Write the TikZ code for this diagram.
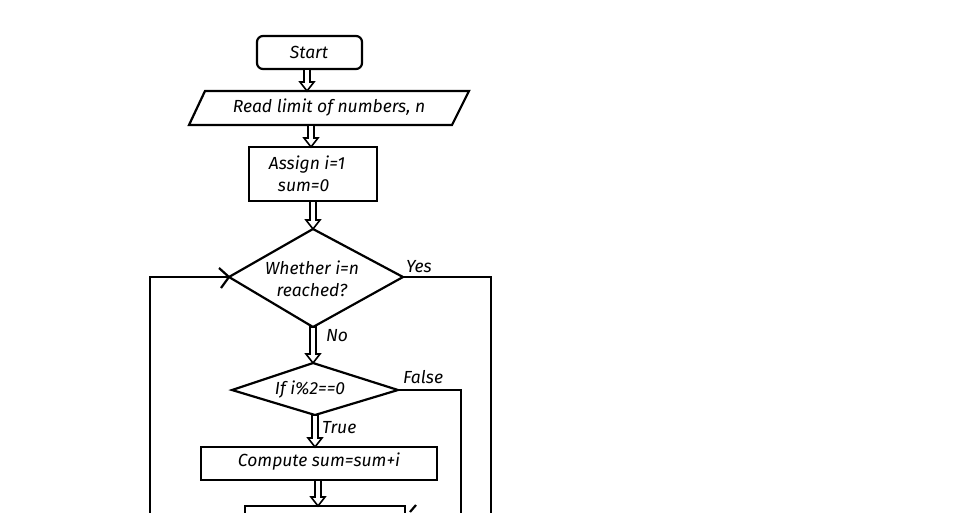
\documentclass[tikz,border=0pt]{standalone}
\usepackage{fontspec}
\setmainfont{Fira Sans}
\usetikzlibrary{shapes.geometric}
\begin{document}
\begin{tikzpicture}[x=1pt,y=-1pt,line width=2.2pt,
  lbl/.style={font=\itshape\fontsize{17.5}{22}\selectfont,inner sep=1pt},
  hollow/.style={line width=1.6pt,fill=white,line join=miter}]
\newcommand\harrow[3]{% x, y1, y2
  \draw[hollow] (#1-3,#2)--(#1+3,#2)--(#1+3,#3-9)--(#1+7,#3-9)--(#1,#3)--(#1-7,#3-9)--(#1-3,#3-9)--cycle;}
\useasboundingbox (0,0) rectangle (974,512);
\clip (0,0) rectangle (974,512);
\fill[white] (0,0) rectangle (974,512);
% start
\draw[rounded corners=6pt] (257,36) rectangle (362,69);
\node[lbl] (start) at (309,52) {Start};
% read
\draw (205,91)--(469,91)--(452,125)--(189,125)--cycle;
\node[lbl] (read) at (329,108) {Read limit of numbers, n};
% assign
\draw (249,147) rectangle (377,201);
\node[lbl,align=left] (assign) at (307,174) {Assign i=1\\\ \ sum=0};
% diamond 1
\draw (313,229)--(403,277)--(313,327)--(229,277)--cycle;
\node[lbl,align=center] (d1) at (312,279) {Whether i=n\\reached?};
% diamond 2
\draw (313,363)--(398,390)--(315,415)--(232,390)--cycle;
\node[lbl] (d2) at (310,390) {If i\%2==0};
% compute
\draw (201,447) rectangle (437,480);
\node[lbl] (comp) at (319,462) {Compute sum=sum+i};
% bottom box
\draw (245,520)--(245,506)--(405,506)--(405,520);
% loops
\draw (150,520)--(150,277)--(229,277);
\draw (219,268)--(229,277)--(221,288);
\draw (403,277)--(491,277)--(491,520);
\draw (398,390)--(461,390)--(461,520);
\draw (410,512)--(416,505);
% labels
\node[lbl,anchor=west] (yes) at (404,267) {Yes};
\node[lbl,anchor=west] (no) at (324,336) {No};
\node[lbl,anchor=west] (false) at (401,377) {False};
\node[lbl,anchor=west] (true) at (320,428) {True};
% hollow arrows
\harrow{307}{69}{91}
\harrow{311}{125}{147}
\harrow{313}{201}{229}
\harrow{313}{327}{363}
\harrow{315}{415}{447}
\harrow{318}{480}{506}
\end{tikzpicture}
\end{document}
